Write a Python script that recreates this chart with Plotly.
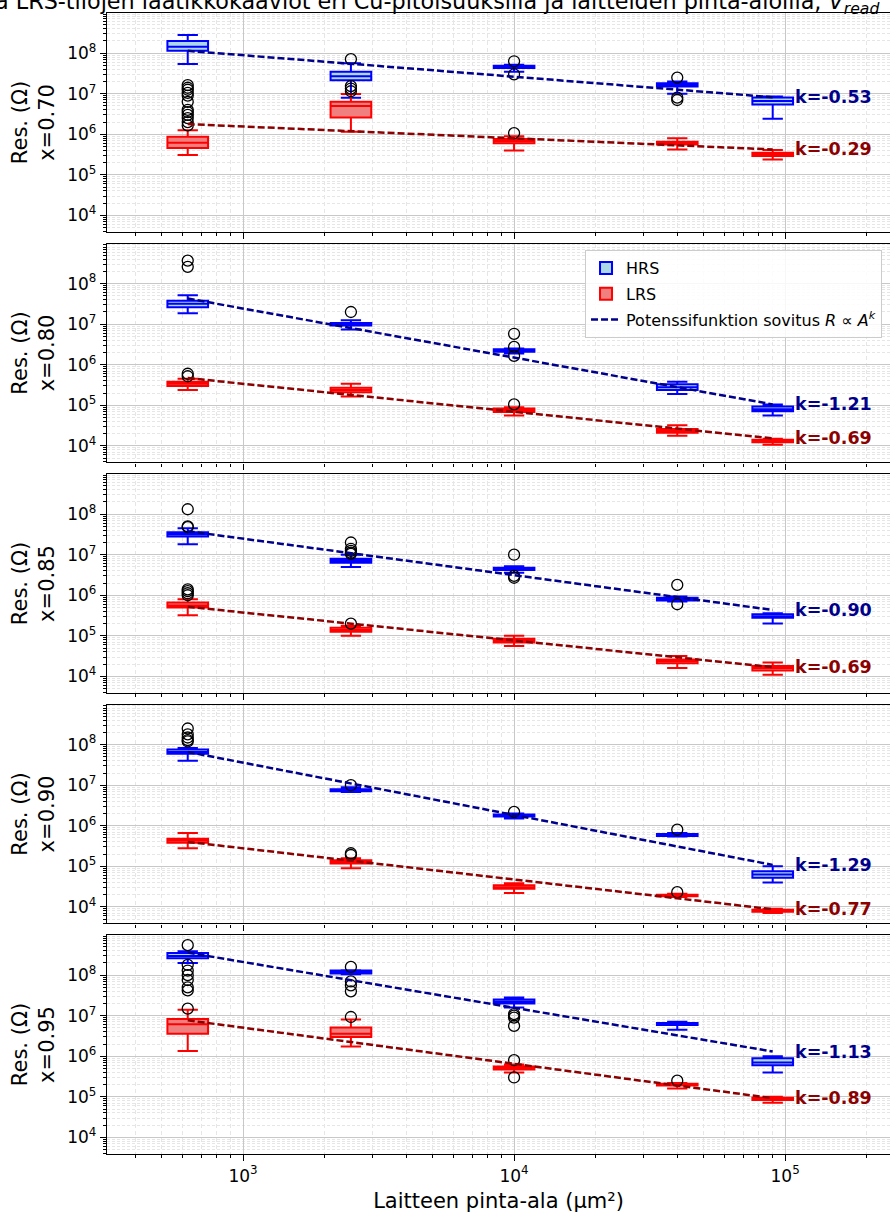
import plotly.graph_objects as go
from plotly.subplots import make_subplots
import math

# ---------------- data ----------------
areas = [625, 2500, 10000, 40000, 90000]          # µm²
cu_labels = ["x=0.70", "x=0.80", "x=0.85", "x=0.90", "x=0.95"]

# HRS statistics (Ω); one row per Cu content, one value per area
hrs_low = [[5.4e7, 7.9e6, 3.5e7, 1.0e7, 2.4e6],
           [1.86e7, 7.4e6, 1.9e6, 1.9e5, 5.6e4],
           [1.8e7, 5.0e6, 3.6e6, 7.0e5, 2.0e5],
           [4.0e7, 6.8e6, 1.5e6, 5.4e5, 4.0e4],
           [2.0e8, 1.05e8, 1.6e7, 4.5e6, 4.0e5]]
hrs_q1 = [[1.14e8, 2.16e7, 4.3e7, 1.5e7, 5.4e6],
          [2.6e7, 9.3e6, 2.1e6, 2.4e5, 7.1e4],
          [2.8e7, 6.3e6, 4.2e6, 7.4e5, 2.8e5],
          [6.0e7, 7.1e6, 1.7e6, 5.6e5, 5.2e4],
          [2.6e8, 1.1e8, 2.0e7, 5.9e6, 6.0e5]]
hrs_med = [[1.43e8, 2.7e7, 4.6e7, 1.66e7, 6.6e6],
           [3.2e7, 1.0e7, 2.25e6, 2.8e5, 8.0e4],
           [3.2e7, 7.1e6, 4.5e6, 8.0e5, 3.0e5],
           [6.6e7, 7.4e6, 1.8e6, 6.0e5, 6.3e4],
           [2.95e8, 1.2e8, 2.2e7, 6.3e6, 7.0e5]]
hrs_q3 = [[1.98e8, 3.46e7, 4.9e7, 1.8e7, 8.1e6],
          [3.8e7, 1.07e7, 2.4e6, 3.3e5, 9.3e4],
          [3.6e7, 7.9e6, 4.8e6, 8.7e5, 3.4e5],
          [7.6e7, 7.9e6, 1.9e6, 6.3e5, 7.6e4],
          [3.5e8, 1.3e8, 2.5e7, 6.6e6, 8.9e5]]
hrs_high = [[2.8e8, 5.6e7, 5.2e7, 2.0e7, 8.5e6],
            [5.2e7, 1.26e7, 2.5e6, 3.8e5, 1.05e5],
            [4.5e7, 1.0e7, 5.2e6, 9.3e5, 3.6e5],
            [8.3e7, 8.9e6, 2.0e6, 6.6e5, 1.0e5],
            [3.9e8, 1.32e8, 2.8e7, 7.1e6, 1.0e6]]
hrs_outliers = [[[], [7.1e7], [6.3e7, 3.0e7], [2.5e7, 8.0e6, 7.0e6], []],
                [[3.7e8, 2.6e8], [2.0e7], [5.8e6, 2.75e6, 1.65e6], [], []],
                [[1.32e8, 5.0e7, 4.8e7], [2.0e7, 1.4e7, 1.25e7, 1.12e7, 1.05e7], [1.0e7, 3.0e6, 2.7e6], [1.8e6, 6.0e5], []],
                [[2.5e8, 1.8e8, 1.5e8, 1.3e8, 1.2e8], [1.0e7], [2.2e6], [8.0e5], []],
                [[5.5e8, 1.8e8, 1.3e8, 1.0e8, 7.6e7, 5.0e7, 4.2e7], [1.6e8, 7.0e7, 5.6e7, 4.0e7], [1.1e7, 1.0e7, 9.0e6, 5.6e6], [], []]]

# LRS statistics (Ω)
lrs_low = [[3.1e5, 1.15e6, 4.0e5, 4.2e5, 2.4e5],
           [2.4e5, 1.66e5, 5.6e4, 1.78e4, 1.07e4],
           [3.2e5, 1.0e5, 5.6e4, 1.6e4, 1.1e4],
           [2.8e5, 9.0e4, 2.2e4, 1.74e4, 7.1e3],
           [1.35e6, 1.75e6, 4.0e5, 1.6e5, 7.1e4]]
lrs_q1 = [[4.6e5, 2.6e6, 6.0e5, 5.6e5, 2.9e5],
          [3.0e5, 2.1e5, 6.8e4, 2.1e4, 1.23e4],
          [5.0e5, 1.26e5, 6.8e4, 2.1e4, 1.4e4],
          [3.8e5, 1.17e5, 2.8e4, 1.82e4, 7.6e3],
          [3.6e6, 3.0e6, 4.7e5, 1.9e5, 8.3e4]]
lrs_med = [[6.2e5, 5.0e6, 6.8e5, 6.0e5, 3.2e5],
           [3.4e5, 2.4e5, 7.4e4, 2.35e4, 1.32e4],
           [5.6e5, 1.4e5, 7.6e4, 2.4e4, 1.6e4],
           [4.3e5, 1.26e5, 3.0e4, 1.9e4, 8.0e3],
           [6.2e6, 3.6e6, 5.0e5, 2.0e5, 8.9e4]]
lrs_q3 = [[8.7e5, 6.3e6, 7.6e5, 6.5e5, 3.5e5],
          [3.8e5, 2.7e5, 8.3e4, 2.6e4, 1.41e4],
          [6.6e5, 1.58e5, 8.5e4, 2.6e4, 1.8e4],
          [4.8e5, 1.41e5, 3.4e4, 2.0e4, 8.5e3],
          [8.3e6, 5.1e6, 5.6e5, 2.1e5, 9.5e4]]
lrs_high = [[1.25e6, 9.8e6, 8.9e5, 8.0e5, 4.1e5],
            [4.5e5, 3.4e5, 8.9e4, 3.2e4, 1.5e4],
            [8.0e5, 1.78e5, 1.0e5, 3.2e4, 2.2e4],
            [6.6e5, 1.58e5, 3.8e4, 2.1e4, 9.0e3],
            [1.4e7, 8.1e6, 6.3e5, 2.2e5, 1.0e5]]
lrs_outliers = [[[1.63e7, 1.4e7, 1.25e7, 1.05e7, 9.0e6, 6.3e6, 4.0e6, 3.5e6, 3.0e6, 2.5e6, 2.0e6, 1.65e6],
                 [1.54e7, 1.34e7, 1.15e7], [1.07e6], [], []],
                [[5.2e5, 6.0e5], [], [1.05e5], [], []],
                [[1.0e6, 1.12e6, 1.26e6, 1.4e6], [2.0e5], [], [], []],
                [[], [1.9e5, 2.1e5], [], [2.3e4], []],
                [[1.5e7], [9.3e6], [8.0e5, 3.0e5], [2.5e5], []]]

# power-law fits R = R0 * (A / A0)^k
hrs_k = [-0.53, -1.21, -0.90, -1.29, -1.13]
lrs_k = [-0.29, -0.69, -0.69, -0.77, -0.89]
hrs_fit_r0 = [1.14e8, 4.3e7, 3.8e7, 6.6e7, 3.6e8]
lrs_fit_r0 = [1.78e6, 4.7e5, 5.2e5, 4.0e5, 7.7e6]

# ---------------- styling ----------------
FONT = "DejaVu Sans"
HRS_EDGE, HRS_FILL = "#0000ff", "#add8e6"
LRS_EDGE, LRS_FILL = "#ff0000", "#f08080"
HRS_FIT, LRS_FIT = "#00008b", "#8b0000"
BOX_W = 0.15  # in decades (log axis)

fig = make_subplots(rows=5, cols=1, shared_xaxes=True, vertical_spacing=0.0101)

def add_state(row, low, q1, med, q3, high, outl, edge, fill, name, showleg):
    for j, a in enumerate(areas):
        fig.add_trace(go.Box(
            x=[a], q1=[q1[j]], median=[med[j]], q3=[q3[j]],
            lowerfence=[low[j]], upperfence=[high[j]],
            width=BOX_W, whiskerwidth=0.5, boxpoints=False,
            fillcolor=fill, line=dict(color=edge, width=2),
            name=name, legendgroup=name,
            showlegend=(showleg and j == 0), hoverinfo="skip"),
            row=row, col=1)
        if outl[j]:
            fig.add_trace(go.Scatter(
                x=[a] * len(outl[j]), y=outl[j], mode="markers",
                marker=dict(symbol="circle-open", size=11, color="black",
                            line=dict(width=1.3, color="black")),
                showlegend=False, hoverinfo="skip"), row=row, col=1)

for i in range(5):
    r = i + 1
    add_state(r, hrs_low[i], hrs_q1[i], hrs_med[i], hrs_q3[i], hrs_high[i],
              hrs_outliers[i], HRS_EDGE, HRS_FILL, "HRS", i == 0)
    add_state(r, lrs_low[i], lrs_q1[i], lrs_med[i], lrs_q3[i], lrs_high[i],
              lrs_outliers[i], LRS_EDGE, LRS_FILL, "LRS", i == 0)
    a0, a1 = areas[0], areas[-1]
    for k, r0, col, lab in [(hrs_k[i], hrs_fit_r0[i], HRS_FIT, True),
                             (lrs_k[i], lrs_fit_r0[i], LRS_FIT, False)]:
        fx = [a0, a1]
        fy = [r0 * (x / a0) ** k for x in fx]
        fig.add_trace(go.Scatter(
            x=fx, y=fy, mode="lines",
            line=dict(color=col, width=2.5, dash="7px,3px"),
            name="Potenssifunktion sovitus <i>R</i> ∝ <i>A</i><sup><i>k</i></sup>",
            showlegend=(i == 0 and lab), hoverinfo="skip"), row=r, col=1)
        fig.add_annotation(
            x=math.log10(a1) + 0.075, y=math.log10(fy[-1]),
            xref=f"x{'' if r == 1 else r}", yref=f"y{'' if r == 1 else r}",
            text=f"<b>k={k:.2f}</b>", showarrow=False, xanchor="left",
            yanchor="middle", font=dict(family=FONT, size=17.5, color=col))

# axes
y_major = [1e4, 1e5, 1e6, 1e7, 1e8]
y_text = ["10<sup>4</sup>", "10<sup>5</sup>", "10<sup>6</sup>", "10<sup>7</sup>", "10<sup>8</sup>"]
y_minor = [m * 10 ** e for e in range(3, 10) for m in range(2, 10)]
x_major = [1e3, 1e4, 1e5]
x_text = ["10<sup>3</sup>", "10<sup>4</sup>", "10<sup>5</sup>"]
x_minor = [m * 10 ** e for e in range(2, 6) for m in range(2, 10)]

for i in range(5):
    r = i + 1
    fig.update_yaxes(
        type="log", range=[3.59, 8.99],
        tickmode="array", tickvals=y_major, ticktext=y_text,
        ticks="outside", ticklen=6, tickwidth=1.2, tickcolor="black",
        showline=True, linecolor="black", linewidth=1.3,
        showgrid=True, gridcolor="#c8c8c8", gridwidth=1.3,
        minor=dict(tickmode="array", tickvals=y_minor, ticks="outside", ticklen=3,
                   tickwidth=1, tickcolor="black", showgrid=True,
                   gridcolor="#e6e6e6", gridwidth=0.7, griddash="3px,2px"),
        tickfont=dict(family=FONT, size=17, color="black"),
        title=dict(text=f"Res. (Ω)<br>{cu_labels[i]}",
                   font=dict(family=FONT, size=21, color="black"), standoff=6),
        zeroline=False, row=r, col=1)
    fig.update_xaxes(
        type="log", range=[2.498, 5.387],
        tickmode="array", tickvals=x_major, ticktext=x_text,
        ticks="outside", ticklen=6, tickwidth=1.2, tickcolor="black",
        showline=True, mirror=True, linecolor="black", linewidth=1.3,
        showgrid=True, gridcolor="#c8c8c8", gridwidth=1.3,
        minor=dict(tickmode="array", tickvals=x_minor, ticks="outside", ticklen=3,
                   tickwidth=1, tickcolor="black", showgrid=True,
                   gridcolor="#e6e6e6", gridwidth=0.8, griddash="4px,3px"),
        tickfont=dict(family=FONT, size=17, color="black"),
        zeroline=False, row=r, col=1)

fig.update_xaxes(title=dict(text="Laitteen pinta-ala (µm²)",
                            font=dict(family=FONT, size=21, color="black"),
                            standoff=8), row=5, col=1)

fig.add_annotation(
    xref="paper", yref="paper", x=-0.1455, y=1.0085, xanchor="left", yanchor="middle",
    text="a LRS-tilojen laatikkokaaviot eri Cu-pitoisuuksilla ja laitteiden pinta-aloilla, <i>V</i><sub><i>read</i></sub>",
    showarrow=False, font=dict(family=FONT, size=22.3, color="black"))

fig.update_layout(
    width=890, height=1215,
    margin=dict(l=107, r=0, t=13, b=61),
    paper_bgcolor="white", plot_bgcolor="white",
    boxmode="overlay",
    font=dict(family=FONT, color="black"),
    legend=dict(x=0.6105, y=0.7923, xanchor="left", yanchor="top",
                bgcolor="rgba(255,255,255,0.85)", bordercolor="#cccccc", borderwidth=1,
                font=dict(family=FONT, size=16, color="black"),
                tracegroupgap=2),
)

fig.write_html("out.html",
               config={"displayModeBar": False},
               post_script="document.body.style.margin='0px';document.body.style.overflow='hidden';")
